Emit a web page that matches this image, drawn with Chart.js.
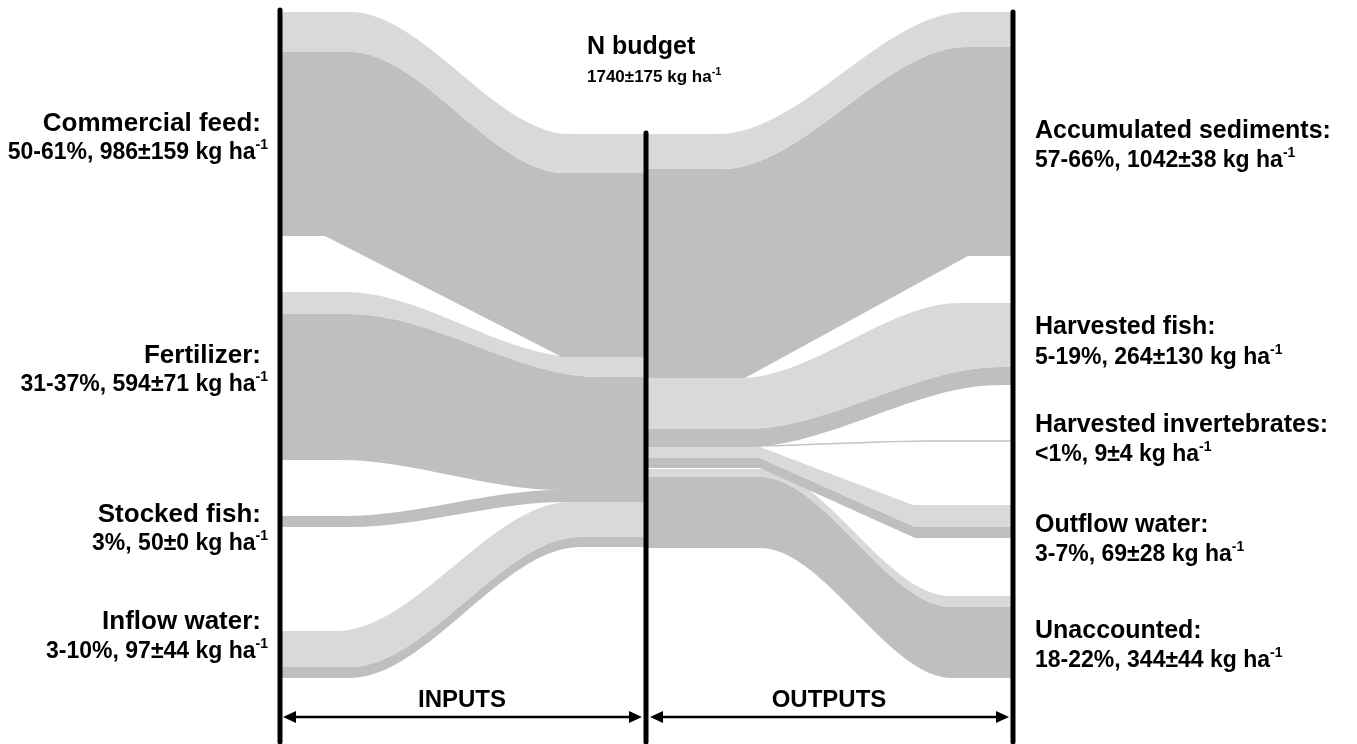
<!DOCTYPE html>
<html><head><meta charset="utf-8">
<script src="https://cdn.jsdelivr.net/npm/chart.js@4.4.1/dist/chart.umd.min.js"></script>
<style>html,body{margin:0;padding:0;background:#fff}#wrap{width:1357px;height:744px;position:relative}</style>
</head><body><div id="wrap"><canvas id="c"></canvas></div>
<script>
// ---------- text content ----------
const budgetTitle = 'N budget';
const budgetStat = '1740±175 kg ha';
const inputNames = ['Commercial feed:', 'Fertilizer:', 'Stocked fish:', 'Inflow water:'];
const inputStats = ['50-61%, 986±159 kg ha', '31-37%, 594±71 kg ha', '3%, 50±0 kg ha', '3-10%, 97±44 kg ha'];
const outputNames = ['Accumulated sediments:', 'Harvested fish:', 'Harvested invertebrates:', 'Outflow water:', 'Unaccounted:'];
const outputStats = ['57-66%, 1042±38 kg ha', '5-19%, 264±130 kg ha', '<1%, 9±4 kg ha', '3-7%, 69±28 kg ha', '18-22%, 344±44 kg ha'];
const sideLabels = ['INPUTS', 'OUTPUTS'];

// ---------- flow band edges (flow scale, 0 = top) ----------
// inputs: [at inputs axis, at budget axis]
const feedLightTop = [12, 134];
const feedDarkTop = [52, 173];
const feedDarkBottom = [236, 357];
const fertLightTop = [292, 357];
const fertDarkTop = [314, 377];
const fertDarkBottom = [460, 490];
const stockTop = [516, 490];
const stockBottom = [527, 502];
const inflowLightTop = [631, 502];
const inflowDarkTop = [667, 537];
const inflowDarkBottom = [678, 547];
// outputs: [at budget axis, at outputs axis]
const sedLightTop = [134, 12];
const sedDarkTop = [169, 47];
const sedDarkBottom = [378, 256];
const fishLightTop = [378, 303];
const fishDarkTop = [429, 367];
const fishDarkBottom = [447, 385];
const invertLine = [446, 441];
const outLightTop = [447, 505];
const outDarkTop = [458, 527];
const outDarkBottom = [468, 538];
const unaccLightTop = [469, 596];
const unaccDarkTop = [477, 607];
const unaccDarkBottom = [548, 678];

// ---------- layout / style ----------
const LIGHT = '#d9d9d9', DARK = '#bfbfbf';
const AX = {in: 280, mid: 646, out: 1013};
const FONT = '"Liberation Sans", Arial, sans-serif';

function edge(pair, side, xr, straight) {
  const x0 = side === 'in' ? AX.in : AX.mid;
  const x1 = side === 'in' ? AX.mid : AX.out;
  return {pts: [{x: x0, y: pair[0]}, {x: xr[0], y: pair[0]}, {x: xr[1], y: pair[1]}, {x: x1, y: pair[1]}], straight: !!straight};
}

const bands = [
  [edge(feedLightTop, 'in', [350, 570]), edge(feedDarkTop, 'in', [350, 565]), LIGHT],
  [edge(feedDarkTop, 'in', [350, 565]), edge(feedDarkBottom, 'in', [325, 562], true), DARK],
  [edge(fertLightTop, 'in', [345, 580]), edge(fertDarkTop, 'in', [350, 600]), LIGHT],
  [edge(fertDarkTop, 'in', [350, 600]), edge(fertDarkBottom, 'in', [340, 560]), DARK],
  [edge(stockTop, 'in', [345, 560]), edge(stockBottom, 'in', [350, 565]), DARK],
  [edge(inflowLightTop, 'in', [337, 570]), edge(inflowDarkTop, 'in', [350, 580]), LIGHT],
  [edge(inflowDarkTop, 'in', [350, 580]), edge(inflowDarkBottom, 'in', [350, 580]), DARK],
  [edge(sedLightTop, 'out', [718, 967]), edge(sedDarkTop, 'out', [722, 967]), LIGHT],
  [edge(sedDarkTop, 'out', [722, 967]), edge(sedDarkBottom, 'out', [745, 968], true), DARK],
  [edge(fishLightTop, 'out', [740, 960]), edge(fishDarkTop, 'out', [745, 1000]), LIGHT],
  [edge(fishDarkTop, 'out', [745, 1000]), edge(fishDarkBottom, 'out', [745, 1000]), DARK],
  [edge(outLightTop, 'out', [760, 913], true), edge(outDarkTop, 'out', [760, 915], true), LIGHT],
  [edge(outDarkTop, 'out', [760, 915], true), edge(outDarkBottom, 'out', [760, 915], true), DARK],
  [edge(unaccLightTop, 'out', [760, 950]), edge(unaccDarkTop, 'out', [760, 952]), LIGHT],
  [edge(unaccDarkTop, 'out', [760, 952]), edge(unaccDarkBottom, 'out', [760, 952]), DARK]
];

const datasets = [];
function lineDs(e, extra) {
  return Object.assign({
    data: e.pts, showLine: true, pointRadius: 0, borderWidth: 0,
    borderColor: 'rgba(0,0,0,0)', fill: false,
    tension: e.straight ? 0 : 0.4,
    cubicInterpolationMode: e.straight ? 'default' : 'monotone'
  }, extra || {});
}
bands.forEach(([top, bot, color]) => {
  datasets.push(lineDs(top));
  datasets.push(lineDs(bot, {fill: '-1', backgroundColor: color}));
});
datasets.push(lineDs(edge(invertLine, 'out', [745, 930]), {borderWidth: 1.5, borderColor: '#c4c4c4'}));

// ---------- decorations: axes, arrows, text ----------
const deco = {
  id: 'deco',
  afterDraw(chart) {
    const ctx = chart.ctx, xs = chart.scales.x, ys = chart.scales.y;
    const px = v => xs.getPixelForValue(v), py = v => ys.getPixelForValue(v);
    ctx.save();
    // vertical axes
    ctx.strokeStyle = '#000'; ctx.lineWidth = 5; ctx.lineCap = 'round';
    [[AX.in, 10], [AX.mid, 133], [AX.out, 12]].forEach(([x, y0]) => {
      ctx.beginPath(); ctx.moveTo(px(x), py(y0)); ctx.lineTo(px(x), py(742)); ctx.stroke();
    });
    // double arrows
    function arrow(x1, x2, y) {
      ctx.lineWidth = 2.5; ctx.lineCap = 'butt';
      ctx.beginPath(); ctx.moveTo(x1 + 8, y); ctx.lineTo(x2 - 8, y); ctx.stroke();
      ctx.fillStyle = '#000';
      ctx.beginPath(); ctx.moveTo(x1, y); ctx.lineTo(x1 + 13, y - 6); ctx.lineTo(x1 + 13, y + 6); ctx.closePath(); ctx.fill();
      ctx.beginPath(); ctx.moveTo(x2, y); ctx.lineTo(x2 - 13, y - 6); ctx.lineTo(x2 - 13, y + 6); ctx.closePath(); ctx.fill();
    }
    arrow(px(AX.in) + 3, px(AX.mid) - 4, py(717));
    arrow(px(AX.mid) + 4, px(AX.out) - 4, py(717));

    ctx.fillStyle = '#000'; ctx.textBaseline = 'alphabetic';
    function big(t, x, y, align, size) {
      ctx.font = 'bold ' + (size || 25) + 'px ' + FONT; ctx.textAlign = align; ctx.fillText(t, x, y);
    }
    function stat(t, x, y, align, size, supSize) {
      size = size || 23; supSize = supSize || 14;
      ctx.textAlign = 'left';
      ctx.font = 'bold ' + size + 'px ' + FONT;
      const w1 = ctx.measureText(t).width;
      ctx.font = 'bold ' + supSize + 'px ' + FONT;
      const w2 = ctx.measureText('-1').width;
      let sx = align === 'right' ? x - w1 - w2 : (align === 'center' ? x - (w1 + w2) / 2 : x);
      ctx.font = 'bold ' + size + 'px ' + FONT;
      ctx.fillText(t, sx, y);
      ctx.font = 'bold ' + supSize + 'px ' + FONT;
      ctx.fillText('-1', sx + w1, y - size * 0.42);
    }
    // title
    big(budgetTitle, 587, 54, 'left', 25);
    stat(budgetStat, 587, 82, 'left', 17, 11);
    // inputs
    const inY = [[131, 159], [363, 391], [522, 550], [629, 658]];
    inputNames.forEach((n, i) => {
      big(n, 261, inY[i][0], 'right', 26);
      stat(inputStats[i], 268, inY[i][1], 'right', 23, 14);
    });
    // outputs
    const outY = [[138, 167], [334, 364], [432, 461], [532, 561], [638, 667]];
    outputNames.forEach((n, i) => {
      big(n, 1035, outY[i][0], 'left', 25);
      stat(outputStats[i], 1035, outY[i][1], 'left', 23, 14);
    });
    // side labels
    big(sideLabels[0], 462, 707, 'center', 24);
    big(sideLabels[1], 829, 707, 'center', 24);
    ctx.restore();
  }
};

new Chart(document.getElementById('c'), {
  type: 'scatter',
  data: {datasets},
  options: {
    responsive: true, maintainAspectRatio: false, animation: false,
    layout: {padding: 0},
    plugins: {legend: {display: false}, tooltip: {enabled: false}, filler: {propagate: false}},
    scales: {
      x: {type: 'linear', min: 0, max: 1357, display: false},
      y: {type: 'linear', min: 0, max: 744, reverse: true, display: false}
    }
  },
  plugins: [deco]
});
</script></body></html>
